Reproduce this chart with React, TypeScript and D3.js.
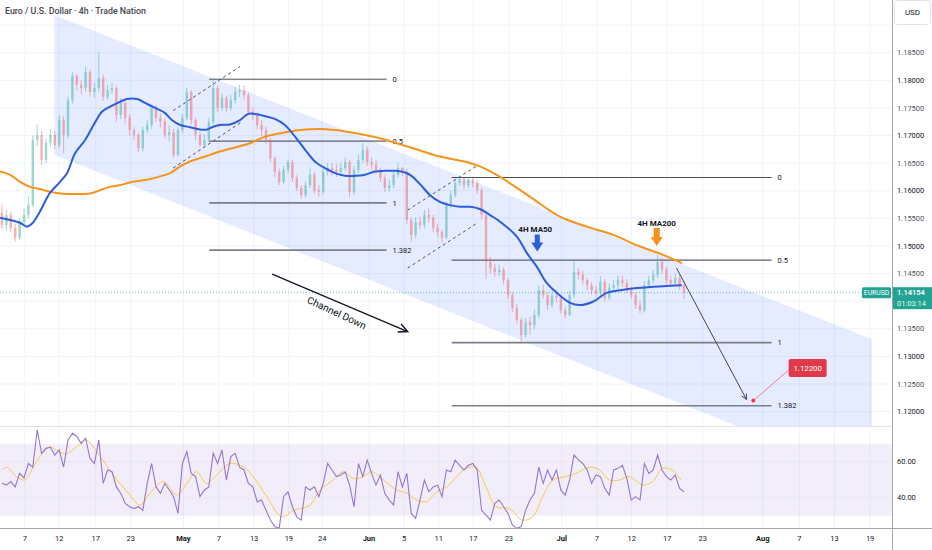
import * as d3 from "d3"

// EURUSD 4h, two candles per trading day
const firstOpen = 1.156
const closes = [
  1.1538, 1.1556, 1.1533, 1.1515, 1.1543, 1.1556, 1.1574, 1.1692, 1.1701, 1.1656,
  1.1687, 1.1701, 1.1683, 1.1728, 1.1701, 1.1764, 1.1808, 1.1792, 1.1786, 1.1815,
  1.1779, 1.1786, 1.1804, 1.1770, 1.1782, 1.1786, 1.1737, 1.1759, 1.1732, 1.1710,
  1.1701, 1.1677, 1.1710, 1.1719, 1.1750, 1.1732, 1.1725, 1.1701, 1.1706, 1.1665,
  1.1710, 1.1732, 1.1779, 1.1728, 1.1701, 1.1683, 1.1692, 1.1725, 1.1786, 1.1750,
  1.1768, 1.1750, 1.1764, 1.1779, 1.1782, 1.1773, 1.1743, 1.1737, 1.1719, 1.1710,
  1.1692, 1.1659, 1.1634, 1.1616, 1.1638, 1.1652, 1.1623, 1.1605, 1.1592, 1.1610,
  1.1629, 1.1601, 1.1598, 1.1634, 1.1641, 1.1638, 1.1634, 1.1641, 1.1652, 1.1598,
  1.1638, 1.1656, 1.1674, 1.1652, 1.1647, 1.1638, 1.1623, 1.1605, 1.1610, 1.1629,
  1.1641, 1.1634, 1.1547, 1.1520, 1.1543, 1.1538, 1.1556, 1.1551, 1.1533, 1.1525,
  1.1515, 1.1574, 1.1592, 1.1614, 1.1620, 1.1610, 1.1620, 1.1614, 1.1601, 1.1556,
  1.1471, 1.1460, 1.1453, 1.1457, 1.1438, 1.1411, 1.1388, 1.1366, 1.1339, 1.1362,
  1.1357, 1.1375, 1.1420, 1.1411, 1.1393, 1.1410, 1.1406, 1.1384, 1.1375, 1.1411,
  1.1453, 1.1448, 1.1438, 1.1429, 1.1420, 1.1415, 1.1435, 1.1406, 1.1424, 1.1429,
  1.1438, 1.1433, 1.1420, 1.1411, 1.1393, 1.1384, 1.1429, 1.1438, 1.1448, 1.1471,
  1.1457, 1.1438, 1.1433, 1.1442, 1.1429, 1.14154,
]
const highs = [
  1.1575, 1.1565, 1.1562, 1.1540, 1.1550, 1.1568, 1.1590, 1.1700, 1.1720, 1.1708,
  1.1695, 1.1712, 1.1708, 1.1737, 1.1735, 1.1770, 1.1815, 1.1812, 1.1800, 1.1824,
  1.1820, 1.1795, 1.1851, 1.1810, 1.1792, 1.1795, 1.1790, 1.1768, 1.1762, 1.1738,
  1.1715, 1.1705, 1.1716, 1.1728, 1.1752, 1.1755, 1.1740, 1.1730, 1.1718, 1.1712,
  1.1716, 1.1740, 1.1786, 1.1782, 1.1732, 1.1706, 1.1702, 1.1732, 1.1802, 1.1790,
  1.1776, 1.1772, 1.1773, 1.1788, 1.1792, 1.1790, 1.1778, 1.1750, 1.1742, 1.1728,
  1.1716, 1.1696, 1.1662, 1.1640, 1.1645, 1.1656, 1.1656, 1.1628, 1.1610, 1.1618,
  1.1640, 1.1634, 1.1610, 1.1640, 1.1650, 1.1650, 1.1648, 1.1650, 1.1660, 1.1656,
  1.1645, 1.1665, 1.1686, 1.1680, 1.1660, 1.1655, 1.1642, 1.1628, 1.1620, 1.1636,
  1.1650, 1.1643, 1.1640, 1.1552, 1.1552, 1.1553, 1.1565, 1.1568, 1.1556, 1.1540,
  1.1530, 1.1580, 1.1600, 1.1622, 1.1625, 1.1625, 1.1625, 1.1624, 1.1620, 1.1606,
  1.1560, 1.1480, 1.1468, 1.1466, 1.1462, 1.1442, 1.1416, 1.1395, 1.1370, 1.1370,
  1.1372, 1.1385, 1.1428, 1.1430, 1.1416, 1.1418, 1.1420, 1.1410, 1.1390, 1.1418,
  1.1475, 1.1460, 1.1455, 1.1442, 1.1435, 1.1428, 1.1445, 1.1440, 1.1432, 1.1438,
  1.1446, 1.1446, 1.1440, 1.1426, 1.1416, 1.1400, 1.1436, 1.1446, 1.1456, 1.1484,
  1.1478, 1.1462, 1.1446, 1.1450, 1.1448, 1.1436,
]
const lows = [
  1.1530, 1.1528, 1.1525, 1.1508, 1.1510, 1.1536, 1.1550, 1.1570, 1.1680, 1.1647,
  1.1650, 1.1680, 1.1675, 1.1678, 1.1668, 1.1695, 1.1758, 1.1782, 1.1775, 1.1780,
  1.1770, 1.1768, 1.1780, 1.1763, 1.1765, 1.1775, 1.1725, 1.1730, 1.1722, 1.1700,
  1.1692, 1.1670, 1.1672, 1.1705, 1.1712, 1.1725, 1.1715, 1.1695, 1.1690, 1.1660,
  1.1662, 1.1705, 1.1728, 1.1720, 1.1692, 1.1679, 1.1678, 1.1688, 1.1720, 1.1742,
  1.1745, 1.1742, 1.1745, 1.1758, 1.1770, 1.1765, 1.1738, 1.1728, 1.1712, 1.1700,
  1.1685, 1.1652, 1.1625, 1.1610, 1.1612, 1.1632, 1.1616, 1.1599, 1.1586, 1.1588,
  1.1605, 1.1595, 1.1589, 1.1594, 1.1628, 1.1628, 1.1625, 1.1628, 1.1636, 1.1589,
  1.1593, 1.1632, 1.1650, 1.1645, 1.1638, 1.1630, 1.1616, 1.1598, 1.1598, 1.1604,
  1.1624, 1.1626, 1.1540, 1.1508, 1.1514, 1.1530, 1.1532, 1.1542, 1.1525, 1.1516,
  1.1506, 1.1512, 1.1568, 1.1588, 1.1608, 1.1602, 1.1605, 1.1606, 1.1594, 1.1548,
  1.1440, 1.1450, 1.1444, 1.1446, 1.1430, 1.1404, 1.1380, 1.1360, 1.1324, 1.1334,
  1.1340, 1.1350, 1.1370, 1.1404, 1.1384, 1.1388, 1.1398, 1.1378, 1.1369, 1.1372,
  1.1406, 1.1440, 1.1430, 1.1420, 1.1412, 1.1408, 1.1410, 1.1400, 1.1402, 1.1418,
  1.1422, 1.1426, 1.1414, 1.1404, 1.1386, 1.1378, 1.1380, 1.1424, 1.1432, 1.1442,
  1.1450, 1.1430, 1.1426, 1.1428, 1.1420, 1.1404,
]

// moving averages (candle index, price)
const ma50Idx = [-0.45, 1.8, 4.1, 5.7, 7, 8.6, 10.9, 13.2, 14.8, 16.6, 18.9, 21.1, 22.7, 24.5, 26.8, 28.4, 30.7, 32.5, 34.8, 37, 38.6, 40.5, 42.7, 45, 46.6, 48, 49.5, 51.8, 54.1, 55.9, 57.5, 59.8, 62, 64.3, 66.6, 68.9, 71.1, 73.4, 75.7, 78, 80.2, 82.5, 84.8, 87, 89.3, 91.6, 93.2, 95, 97.3, 99.5, 101.8, 104.1, 106.4, 108.6, 110.9, 113.2, 117, 119.3, 121.5, 123.8, 126.1, 129.1, 131.4, 134.3, 137.4, 140.5, 144.3, 148, 151.8, 154.5]
const ma50Val = [1.1551, 1.1547, 1.1542, 1.1535, 1.1542, 1.1562, 1.1596, 1.1616, 1.1632, 1.1668, 1.1692, 1.1723, 1.1743, 1.1752, 1.1761, 1.1766, 1.1766, 1.1759, 1.175, 1.1741, 1.1728, 1.1719, 1.1715, 1.1711, 1.1711, 1.1716, 1.1719, 1.172, 1.1728, 1.1739, 1.1739, 1.1735, 1.173, 1.1719, 1.1698, 1.1674, 1.1653, 1.1641, 1.1632, 1.1627, 1.1627, 1.1629, 1.1635, 1.1636, 1.1636, 1.1633, 1.1626, 1.1612, 1.1592, 1.158, 1.1574, 1.1571, 1.1571, 1.1567, 1.1556, 1.1544, 1.1517, 1.1487, 1.1463, 1.1433, 1.1415, 1.1397, 1.1393, 1.1399, 1.1415, 1.142, 1.1424, 1.1426, 1.1428, 1.1429]
const ma200Idx = [-0.45, 1.8, 4.1, 6.4, 8.6, 10.9, 13.2, 16.6, 20, 22.3, 24.5, 26.8, 29.1, 31.4, 33.6, 35.9, 38.2, 40.5, 42.7, 45, 47.3, 49.5, 51.8, 56.4, 59.8, 63.2, 67.7, 72.3, 75.7, 79.1, 82.5, 85.9, 89.3, 93.4, 99.5, 105.6, 108.6, 113.2, 120, 126.8, 132.9, 138.9, 145, 150.2, 154.5]
const ma200Val = [1.1635, 1.1629, 1.1616, 1.1607, 1.1603, 1.1598, 1.1595, 1.1594, 1.1595, 1.1601, 1.1607, 1.161, 1.1615, 1.1618, 1.1621, 1.1626, 1.1632, 1.1644, 1.1653, 1.1659, 1.1665, 1.1671, 1.1676, 1.1686, 1.1698, 1.1704, 1.171, 1.1712, 1.171, 1.1706, 1.1701, 1.1695, 1.1687, 1.1677, 1.1662, 1.1652, 1.1644, 1.1625, 1.1589, 1.1553, 1.1535, 1.152, 1.1499, 1.1484, 1.1469]

// RSI panel, one value per candle
const rsi = [
  48, 47, 49, 46, 53.5, 51, 59, 57, 77.6, 64.6, 67.4, 68, 63.7, 66.5, 57, 72, 75.7, 74, 70, 73,
  61.9, 59, 72, 48, 55.4, 54.4, 46, 42.4, 36.9, 35, 34, 35, 33, 48, 59, 46, 42.4, 48, 44.3, 40.6,
  31.3, 59, 65.6, 53.5, 51.7, 40.6, 44.3, 46, 64.6, 59, 66.5, 49.8, 62.8, 64.6, 57, 55.4, 48, 46, 37.8, 38.7,
  33, 27.6, 24, 23, 40.6, 43.3, 35, 29.4, 27.6, 46, 44.3, 46, 40.6, 48, 59, 55.4, 51.7, 52.6, 54.4, 47,
  35, 59, 51.7, 60.9, 53.5, 47, 52.6, 42.4, 38.7, 36, 54.4, 46, 53.5, 31.3, 28.5, 38.7, 49.8, 43.3, 46, 47,
  40.6, 55.4, 54.4, 60.9, 58, 55.4, 58, 59, 55.4, 33, 30.4, 27.6, 36.9, 38.7, 35, 31.3, 24.8, 23, 24, 33,
  38.7, 42.4, 57, 48, 55.4, 49.8, 55.4, 44.3, 41.5, 49.8, 63.7, 61, 59, 55.4, 48, 52.6, 51.7, 45.2, 41.5, 55.4,
  56.3, 58, 50.7, 38.7, 40.6, 38.7, 59, 53.5, 55.4, 63.7, 55.4, 51.7, 49.8, 52.6, 45.2, 43.3,
]
const rsiMaIdx = [0, 1.1, 3.3, 5.2, 7.1, 8.6, 10.9, 12.8, 14.7, 17, 19.1, 21.5, 24.5, 26.8, 29.1, 31.4, 33.6, 36.7, 39.7, 42, 44.2, 46.5, 48.8, 51.8, 54.9, 57.1, 60.2, 63.6, 66.2, 70, 72.3, 75.3, 77.6, 79.9, 82.1, 84, 86.7, 89.7, 92, 94.3, 96.5, 98.8, 101.1, 103.3, 105.5, 107.7, 110, 112.3, 115.3, 118.3, 120.6, 122.9, 125.2, 128.2, 130.5, 133.5, 135.8, 138, 140.3, 142.6, 145.6, 147.9, 150.1, 152.4, 154.3]
const rsiMaVal = [55.4, 57, 51.7, 49.8, 57, 62.8, 68.3, 65.6, 64.6, 68.3, 72, 65.6, 55.4, 48, 41.5, 35.9, 42.4, 48.9, 41.5, 48, 54.4, 48, 52.6, 59, 57, 51.7, 40.6, 29.4, 33, 35.9, 44.3, 49.8, 54.4, 50.7, 51.7, 54.4, 49.8, 44.3, 42.6, 38.7, 37.8, 43.3, 46, 51.7, 56.3, 57, 46, 35, 34, 27.6, 29.4, 40.6, 49.8, 51.7, 53.5, 57, 55.4, 49.8, 49.8, 51.7, 47, 48.9, 56.3, 55.4, 49.8]

// axes
const priceTicks = [1.12, 1.125, 1.13, 1.135, 1.14, 1.145, 1.15, 1.155, 1.16, 1.165, 1.17, 1.175, 1.18, 1.185, 1.19]
const rsiTicks = [40, 60]
const timeTickIdx = [5.2, 13, 21.3, 29.25, 41.2, 49.3, 57.3, 65.2, 72.8, 83.4, 91.4, 99.25, 107.1, 115.2, 127.2, 135.2, 143.1, 151.2, 159.25, 172.9, 181.2, 189.2, 197.3]
const timeTickLabels = ["7", "12", "17", "23", "May", "7", "13", "19", "24", "Jun", "5", "11", "17", "23", "Jul", "7", "12", "17", "23", "Aug", "7", "13", "19"]
const monthLabels = ["May", "Jun", "Jul", "Aug"]

// drawings
const channelIdx = [11.9, 197.7]
const channelUpper = [1.1918, 1.1331]
const channelLower = [1.1665, 1.1077]
const fibRatios = [0, 0.5, 1, 1.382]
const fibSets = [
  [47.1, 87.4, 1.1802, 1.1578],
  [102.2, 174.9, 1.1624, 1.1325],
]
const dashedLines = [
  [38.9, 1.1745, 54.1, 1.1825],
  [38.9, 1.1641, 54.5, 1.1725],
  [92.2, 1.1565, 107.9, 1.1645],
  [92.2, 1.146, 107.9, 1.1541],
]
const channelArrow = [61.4, 1.1449, 92.2, 1.1345]
const channelText = [76.1, 1.1379]
const projection = [153.3, 1.146, 169.2, 1.1222]
const target = [170.75, 1.122]
const targetLabel = [183.1, 1.1279]
const ma50Tag = [121.2, 1.1531, 1.149]
const ma200Tag = [148.8, 1.1542, 1.15]
const countdown = "01:03:14"

const PLOT_W = 892
const MAIN_H = 426
const RSI_TOP = 426
const RSI_BOTTOM = 528
const FONT = "Roboto, sans-serif"

const x = d3.scaleLinear().domain([-0.4545, 202.27]).range([0, PLOT_W])
const y = d3.scaleLinear().domain([1.1174, 1.19454]).range([MAIN_H, 0])
const yR = d3.scaleLinear().domain([23.2, 79.8]).range([RSI_BOTTOM, RSI_TOP])

const arrowHead = (x1: number, y1: number, x2: number, y2: number, len: number) => {
  const a = Math.atan2(y2 - y1, x2 - x1)
  const s = 0.45
  return `M${x2 - len * Math.cos(a - s)},${y2 - len * Math.sin(a - s)}L${x2},${y2}L${x2 - len * Math.cos(a + s)},${y2 - len * Math.sin(a + s)}`
}

export default function App() {
  const bw = (x(1) - x(0)) * 0.55
  const last = closes[closes.length - 1]

  const ma50Line = d3.line<number>().x((d, i) => x(ma50Idx[i])).y((d) => y(d)).curve(d3.curveCatmullRom)
  const ma200Line = d3.line<number>().x((d, i) => x(ma200Idx[i])).y((d) => y(d)).curve(d3.curveCatmullRom)
  const rsiLine = d3.line<number>().x((d, i) => x(i)).y((d) => yR(d))
  const rsiMaLine = d3.line<number>().x((d, i) => x(rsiMaIdx[i])).y((d) => yR(d)).curve(d3.curveCatmullRom)

  const chan = [
    [x(channelIdx[0]), y(channelUpper[0])],
    [x(channelIdx[1]), y(channelUpper[1])],
    [x(channelIdx[1]), y(channelLower[1])],
    [x(channelIdx[0]), y(channelLower[0])],
  ]

  const [ax1, ay1, ax2, ay2] = [x(channelArrow[0]), y(channelArrow[1]), x(channelArrow[2]), y(channelArrow[3])]
  const [px1, py1, px2, py2] = [x(projection[0]), y(projection[1]), x(projection[2]), y(projection[3])]
  const angle = (Math.atan2(ay2 - ay1, ax2 - ax1) * 180) / Math.PI

  const downArrow = (cx: number, tip: number, shaftW: number, shaftLen: number, headH: number) =>
    `M${cx - shaftW / 2},${tip - headH - shaftLen}H${cx + shaftW / 2}V${tip - headH}H${cx + 6}L${cx},${tip}L${cx - 6},${tip - headH}H${cx - shaftW / 2}Z`

  // axis labels hidden by the last-price tag and the currency box are not drawn
  const visibleTicks = priceTicks.filter((p) => Math.abs(y(p) - y(last)) > 14 && y(p) > 30)

  return (
    <div style={{ position: "absolute", left: 0, top: 0 }}>
      <svg width={932} height={550} style={{ display: "block", background: "#fff" }} fontFamily={FONT}>
        <defs>
          <clipPath id="mainClip"><rect x={0} y={0} width={PLOT_W} height={MAIN_H} /></clipPath>
          <clipPath id="rsiClip"><rect x={0} y={RSI_TOP} width={PLOT_W} height={RSI_BOTTOM - RSI_TOP} /></clipPath>
        </defs>

        {/* grid */}
        {timeTickIdx.map((t, i) => (
          <line key={"vg" + i} x1={x(t)} x2={x(t)} y1={0} y2={RSI_BOTTOM} stroke="#f0f3fa" />
        ))}
        {priceTicks.map((p) => (
          <line key={"hg" + p} x1={0} x2={PLOT_W} y1={y(p)} y2={y(p)} stroke="#f0f3fa" />
        ))}

        <g clipPath="url(#mainClip)">
          <polygon points={chan.map((p) => p.join(",")).join(" ")} fill="#2962ff" fillOpacity={0.12} />

          {fibSets.map((f, si) =>
            fibRatios.map((r) => {
              const py = y(f[2] + r * (f[3] - f[2]))
              return (
                <g key={"fib" + si + r}>
                  <line x1={x(f[0])} x2={x(f[1])} y1={py} y2={py}
                    stroke={r === 0 ? "#4a4d57" : r === 0.5 ? "#5d606b" : "#7c7f89"}
                    strokeWidth={r === 0 ? 1 : r === 0.5 ? 1.2 : 1.6} />
                  <text x={x(f[1]) + 6} y={py} dy="0.35em" fontSize={7.5} fill="#131722">{r}</text>
                </g>
              )
            })
          )}

          {dashedLines.map((d, i) => (
            <line key={"dl" + i} x1={x(d[0])} y1={y(d[1])} x2={x(d[2])} y2={y(d[3])}
              stroke="#50535e" strokeWidth={1} strokeDasharray="3 3" />
          ))}

          <line x1={0} x2={PLOT_W} y1={y(last)} y2={y(last)} stroke="#26a69a" strokeOpacity={0.7} strokeDasharray="1 2" />

          {closes.map((c, i) => {
            const o = i === 0 ? firstOpen : closes[i - 1]
            const up = c >= o
            const col = up ? "#26a69a" : "#ef5350"
            const cx = x(i)
            return (
              <g key={"c" + i} opacity={0.45}>
                <line x1={cx} x2={cx} y1={y(highs[i])} y2={y(lows[i])} stroke={col} strokeWidth={1} />
                <rect x={cx - bw / 2} width={bw} y={y(Math.max(o, c))}
                  height={Math.max(1, Math.abs(y(o) - y(c)))} fill={col} />
              </g>
            )
          })}

          <path d={ma200Line(ma200Val) ?? ""} fill="none" stroke="#f7931a" strokeWidth={2} />
          <path d={ma50Line(ma50Val) ?? ""} fill="none" stroke="#2c5ddb" strokeWidth={2} />

          {/* channel down arrow */}
          <line x1={ax1} y1={ay1} x2={ax2} y2={ay2} stroke="#131722" strokeWidth={1.4} />
          <path d={arrowHead(ax1, ay1, ax2, ay2, 10)} fill="none" stroke="#131722" strokeWidth={1.4} />
          <text transform={`translate(${x(channelText[0])},${y(channelText[1])}) rotate(${angle + 2})`}
            textAnchor="middle" dy="0.35em" fontSize={10} fill="#131722">Channel Down</text>

          {/* projection */}
          <line x1={px1} y1={py1} x2={px2} y2={py2} stroke="#434651" strokeWidth={1} />
          <path d={arrowHead(px1, py1, px2, py2, 6)} fill="none" stroke="#434651" strokeWidth={1} />
          <line x1={x(target[0])} y1={y(target[1])} x2={x(targetLabel[0]) - 19} y2={y(targetLabel[1]) + 2}
            stroke="#f23645" strokeOpacity={0.6} strokeWidth={1} />
          <circle cx={x(target[0])} cy={y(target[1])} r={2} fill="#f23645" />
          <rect x={x(targetLabel[0]) - 19} y={y(targetLabel[1]) - 9} width={38} height={18} rx={2} fill="#e03a4a" />
          <text x={x(targetLabel[0])} y={y(targetLabel[1])} dy="0.35em" textAnchor="middle" fontSize={7.8} fill="#fff">
            {target[1].toFixed(5)}
          </text>

          {/* MA tags */}
          <text x={x(ma50Tag[0])} y={y(ma50Tag[1])} dy="0.35em" textAnchor="middle" fontSize={8} fontWeight={700} fill="#131722">4H MA50</text>
          <path d={downArrow(x(ma50Tag[0]) + 2, y(ma50Tag[2]), 5, 8, 9)} fill="#2c5ddb" />
          <text x={x(ma200Tag[0])} y={y(ma200Tag[1])} dy="0.35em" textAnchor="middle" fontSize={8} fontWeight={700} fill="#131722">4H MA200</text>
          <path d={downArrow(x(ma200Tag[0]), y(ma200Tag[2]), 6, 9, 9)} fill="#f7931a" />
        </g>

        {/* RSI */}
        <rect x={0} y={yR(70)} width={PLOT_W} height={yR(30) - yR(70)} fill="#7e57c2" fillOpacity={0.1} />
        {rsiTicks.map((t) => (
          <line key={"rg" + t} x1={0} x2={PLOT_W} y1={yR(t)} y2={yR(t)} stroke="#e9e6f2" />
        ))}
        <g clipPath="url(#rsiClip)">
          <path d={rsiMaLine(rsiMaVal) ?? ""} fill="none" stroke="#f7c948" strokeWidth={1} />
          <path d={rsiLine(rsi) ?? ""} fill="none" stroke="#9575cd" strokeWidth={1.1} />
        </g>

        {/* borders */}
        <line x1={0} x2={PLOT_W} y1={RSI_TOP + 0.5} y2={RSI_TOP + 0.5} stroke="#e0e3eb" />
        <line x1={0} x2={932} y1={RSI_BOTTOM + 0.5} y2={RSI_BOTTOM + 0.5} stroke="#a3a6af" />
        <line x1={PLOT_W + 0.5} x2={PLOT_W + 0.5} y1={0} y2={550} stroke="#a3a6af" />

        {/* price axis */}
        {visibleTicks.map((p) => (
          <text key={"pt" + p} x={PLOT_W + 5} y={y(p)} dy="0.35em" fontSize={7.5}
            fill={Math.round(p * 1000) % 10 === 0 ? "#131722" : "#50535e"}>{p.toFixed(5)}</text>
        ))}
        {rsiTicks.map((t) => (
          <text key={"rt" + t} x={PLOT_W + 5} y={yR(t)} dy="0.35em" fontSize={7.5} fill="#131722">{t.toFixed(2)}</text>
        ))}
        <rect x={894.5} y={0.5} width={36} height={24} rx={3} fill="#fff" stroke="#e0e3eb" />
        <text x={912.5} y={12.5} dy="0.35em" textAnchor="middle" fontSize={8} fill="#131722">USD</text>

        {/* last price */}
        <rect x={862} y={y(last) - 5.5} width={29} height={11} rx={1.5} fill="#22a394" />
        <text x={876.5} y={y(last)} dy="0.35em" textAnchor="middle" fontSize={6.8} fill="#fff">EURUSD</text>
        <rect x={PLOT_W + 1} y={y(last) - 5.5} width={39} height={22} fill="#22a394" />
        <text x={PLOT_W + 5} y={y(last)} dy="0.35em" fontSize={7.5} fill="#fff" fontWeight={600}>{last.toFixed(5)}</text>
        <text x={PLOT_W + 5} y={y(last) + 11} dy="0.35em" fontSize={7.5} fill="#e6f4f2">{countdown}</text>

        {/* time axis */}
        {timeTickIdx.map((t, i) => (
          <text key={"tt" + i} x={x(t)} y={538.5} dy="0.35em" textAnchor="middle" fontSize={7.5}
            fontWeight={monthLabels.includes(timeTickLabels[i]) ? 700 : 400} fill="#131722">{timeTickLabels[i]}</text>
        ))}

        <text x={5} y={13.5} fontSize={8.8} fontWeight={500} fill="#434651">Euro / U.S. Dollar · 4h · Trade Nation</text>
      </svg>
    </div>
  )
}
